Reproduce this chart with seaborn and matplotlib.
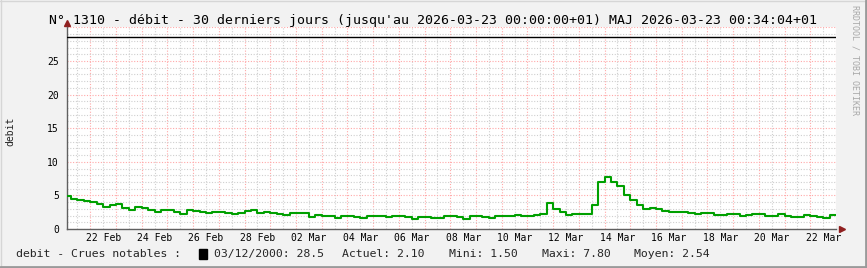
import matplotlib
matplotlib.use('Agg')
import matplotlib.pyplot as plt
import seaborn as sns
import pandas as pd
from matplotlib.lines import Line2D
from matplotlib.patches import Rectangle
from matplotlib.ticker import MultipleLocator

# ---------------- data ----------------
start_time = '2026-02-21 00:00'
end_time = '2026-03-23 00:00'
view_start = '2026-02-21 02:00'
step = '6h'

debit_values = [
    4.95, 4.4, 4.25, 4.2, 4.05, 3.65, 3.25, 3.55, 3.75, 3.15,
    2.9, 3.3, 3.1, 2.85, 2.6, 2.85, 2.85, 2.5, 2.3, 2.85,
    2.7, 2.55, 2.35, 2.5, 2.5, 2.4, 2.25, 2.45, 2.75, 2.9,
    2.35, 2.55, 2.45, 2.3, 2.05, 2.4, 2.35, 2.35, 1.75, 2.1,
    2.0, 1.9, 1.7, 1.9, 1.95, 1.85, 1.7, 1.95, 1.9, 1.95,
    1.75, 1.95, 1.9, 1.8, 1.5, 1.8, 1.8, 1.7, 1.65, 1.95,
    1.9, 1.8, 1.55, 1.95, 1.95, 1.85, 1.7, 1.9, 1.95, 1.95,
    2.05, 1.95, 1.95, 2.05, 2.3, 3.8, 3.0, 2.5, 2.05, 2.3,
    2.25, 2.25, 3.6, 7.0, 7.8, 7.0, 6.4, 5.1, 4.3, 3.6,
    3.0, 3.1, 3.0, 2.65, 2.5, 2.6, 2.6, 2.35, 2.25, 2.4,
    2.35, 2.05, 2.05, 2.3, 2.2, 1.95, 2.05, 2.2, 2.2, 2.0,
    1.9, 2.2, 2.0, 1.85, 1.75, 2.15, 2.0, 1.8, 1.7, 2.1,
]
crue_date = '03/12/2000'
crue_value = 28.5
stat_labels = ['Actuel', 'Mini', 'Maxi', 'Moyen']
stat_values = ['2.10', '1.50', '7.80', '2.54']
y_ticks = [0, 5, 10, 15, 20, 25]

title = ("N° 1310 - débit - 30 derniers jours (jusqu'au 2026-03-23 00:00:00+01) "
         "MAJ 2026-03-23 00:34:04+01")

# ---------------- figure ----------------
sns.set_theme(style='white')
plt.rcParams['font.family'] = ['DejaVu Sans Mono', 'DejaVu Sans']

W, H = 867, 268
fig = plt.figure(figsize=(W / 100, H / 100), dpi=100, facecolor='#f2f2f2')
ax_l, ax_r, ax_t, ax_b = 66.7, 836.0, 27.4, 229.0
ax = fig.add_axes([ax_l / W, (H - ax_b) / H, (ax_r - ax_l) / W, (ax_b - ax_t) / H])
ax.set_facecolor('white')

times = pd.date_range(start_time, periods=len(debit_values), freq=step)
df = pd.DataFrame({'time': times, 'debit': debit_values})
df_ext = pd.concat([df, pd.DataFrame({'time': [pd.Timestamp(end_time)],
                                      'debit': [debit_values[-1]]})],
                   ignore_index=True)

sns.lineplot(data=df_ext, x='time', y='debit', drawstyle='steps-post',
             color='#00a000', linewidth=1.5, ax=ax, zorder=4)
ax.axhline(crue_value, color='black', lw=1.0, zorder=3)

ax.set_xlim(pd.Timestamp(view_start), pd.Timestamp(end_time))
ax.set_ylim(0, 30)

# x ticks: daily midnight (major grid), noon (minor grid + labels every 2 days)
midnights = pd.date_range('2026-02-22', end_time, freq='D')
noons = pd.date_range('2026-02-21 12:00', '2026-03-22 12:00', freq='D')
ax.set_xticks(midnights)
ax.set_xticklabels([''] * len(midnights))
ax.set_xticks(noons, minor=True)
noon_labels = [t.strftime('%d %b') if (t.normalize() - pd.Timestamp('2026-02-22')).days % 2 == 0
               and t >= pd.Timestamp('2026-02-22') else '' for t in noons]
ax.set_xticklabels(noon_labels, minor=True)

ax.set_yticks(y_ticks + [30])
ax.set_yticklabels([str(v) for v in y_ticks] + [''])
ax.yaxis.set_minor_locator(MultipleLocator(1))

ax.grid(which='major', color='#ffa8a8', linestyle=(0, (1, 1.5)), linewidth=0.8, zorder=1)
ax.grid(which='minor', color='#cfcfcf', linestyle=(0, (1, 1.5)), linewidth=0.8, zorder=1)
ax.set_axisbelow(True)

ax.tick_params(which='both', length=0, labelsize=7, colors='#000000')
ax.tick_params(axis='x', which='both', pad=3)
ax.tick_params(axis='y', which='both', pad=5.5)
ax.set_xlabel('')
ax.set_ylabel('')

for s in ['top', 'right']:
    ax.spines[s].set_visible(False)
for s in ['left', 'bottom']:
    ax.spines[s].set_color('#606060')
    ax.spines[s].set_linewidth(1.0)

# axis arrows
ax.plot([0], [1.022], marker='^', ms=4, color='#902020', transform=ax.transAxes, clip_on=False)
ax.plot([1.0072], [0], marker='>', ms=4, color='#902020', transform=ax.transAxes, clip_on=False)

# texts
fig.text(49 / W, 1 - 24 / H, title, fontsize=9.5, ha='left', va='baseline', color='black')
fig.text(10 / W, 1 - 131 / H, 'debit', fontsize=7, rotation=90, ha='center', va='center')
fig.text(855 / W, 1 - 5 / H, 'RRDTOOL / TOBI OETIKER', fontsize=6, rotation=270,
         ha='center', va='top', color='#a8a8a8')

leg_base = 1 - 257.3 / H
fig.text(16 / W, leg_base, 'debit - Crues notables :', fontsize=8.25, va='baseline')
fig.patches.append(Rectangle((199 / W, 1 - 259 / H), 8 / W, 10 / H, color='black',
                             transform=fig.transFigure, figure=fig))
fig.text(214 / W, leg_base, f'{crue_date}: {crue_value}', fontsize=8.25, va='baseline')
stat_x = [341.7, 449, 541.7, 634.3]
for lab, val, xx in zip(stat_labels, stat_values, stat_x):
    fig.text(xx / W, leg_base, f'{lab}: {val}', fontsize=8.25, va='baseline')

# frame
fig.add_artist(Line2D([0, 1], [1 - 0.5 / H, 1 - 0.5 / H], transform=fig.transFigure, color='#d6d6d6', lw=1))
fig.add_artist(Line2D([0.5 / W, 0.5 / W], [0, 1], transform=fig.transFigure, color='#d6d6d6', lw=1))
fig.add_artist(Line2D([1 - 1.5 / W, 1 - 1.5 / W], [0, 1], transform=fig.transFigure, color='#9a9a9a', lw=2))
fig.add_artist(Line2D([0, 1], [1.5 / H, 1.5 / H], transform=fig.transFigure, color='#9a9a9a', lw=2))

fig.savefig('out.png', dpi=100, facecolor=fig.get_facecolor())
